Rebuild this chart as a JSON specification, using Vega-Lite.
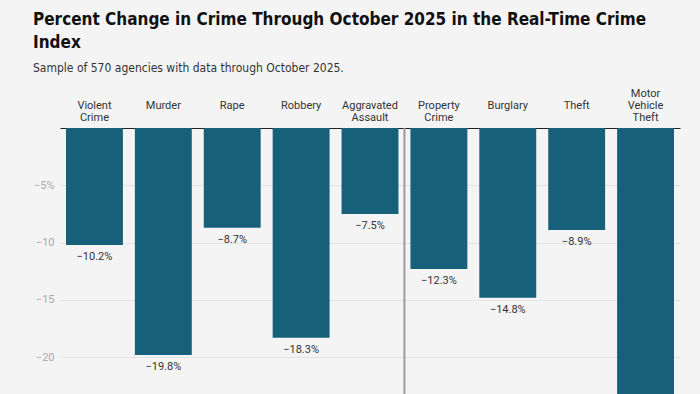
{
  "$schema": "https://vega.github.io/schema/vega-lite/v6.json",
  "width": 620,
  "height": 266,
  "autosize": {"type": "none"},
  "padding": {"left": 60, "top": 128, "right": 20, "bottom": 0},
  "background": "#f4f4f4",
  "title": {
    "text": ["Percent Change in Crime Through October 2025 in the Real-Time Crime", "Index"],
    "subtitle": "Sample of 570 agencies with data through October 2025.",
    "anchor": "start",
    "frame": "group",
    "dx": -27,
    "offset": 12,
    "font": "DejaVu Sans Condensed, Roboto",
    "fontSize": 17,
    "fontWeight": "bold",
    "color": "#111",
    "lineHeight": 23.5,
    "subtitleFont": "DejaVu Sans Condensed, Roboto",
    "subtitleFontSize": 12,
    "subtitleColor": "#333",
    "subtitlePadding": 11
  },
  "config": {"view": {"stroke": null}, "font": "Roboto"},
  "data": {
    "values": [
      {"crime": "Violent Crime", "change": -0.102},
      {"crime": "Murder", "change": -0.198},
      {"crime": "Rape", "change": -0.087},
      {"crime": "Robbery", "change": -0.183},
      {"crime": "Aggravated Assault", "change": -0.075},
      {"crime": "Property Crime", "change": -0.123},
      {"crime": "Burglary", "change": -0.148},
      {"crime": "Theft", "change": -0.089},
      {"crime": "Motor Vehicle Theft", "change": -0.255}
    ]
  },
  "layer": [
    {
      "mark": {"type": "bar", "color": "#17607a", "clip": true},
      "encoding": {
        "x": {
          "field": "crime",
          "type": "nominal",
          "sort": null,
          "scale": {
            "domain": ["Violent Crime", "Murder", "Rape", "Robbery", "Aggravated Assault", "Property Crime", "Burglary", "Theft", "Motor Vehicle Theft"],
            "paddingInner": 0.174,
            "paddingOuter": 0.087
          },
          "axis": {
            "orient": "top",
            "title": null,
            "labelAngle": 0,
            "ticks": false,
            "domainColor": "#222",
            "labelColor": "#333",
            "labelFontSize": 11,
            "labelPadding": 30,
            "labelLineHeight": 12,
            "labelExpr": "length(split(datum.label, ' ')) == 1 ? ['', '', datum.label] : length(split(datum.label, ' ')) == 2 ? ['', split(datum.label, ' ')[0], split(datum.label, ' ')[1]] : split(datum.label, ' ')"
          }
        },
        "y": {
          "field": "change",
          "type": "quantitative",
          "scale": {"domain": [-0.232, 0], "nice": false, "zero": false},
          "axis": {
            "title": null,
            "values": [-0.05, -0.1, -0.15, -0.2],
            "domain": false,
            "ticks": false,
            "gridColor": "#e4e4e4",
            "labelColor": "#aaaaaa",
            "labelFontSize": 11,
            "labelPadding": 6,
            "labelExpr": "datum.value > -0.06 ? format(datum.value, '.0%') : format(datum.value * 100, '.0f')"
          }
        }
      }
    },
    {
      "transform": [{"filter": "datum.change > -0.22"}],
      "mark": {"type": "text", "baseline": "top", "dy": 6, "fontSize": 11, "color": "#333"},
      "encoding": {
        "x": {"field": "crime", "type": "nominal", "sort": null},
        "y": {"field": "change", "type": "quantitative"},
        "text": {"field": "change", "type": "quantitative", "format": ".1%"}
      }
    },
    {
      "data": {"values": [{"divider": "Property Crime"}]},
      "mark": {"type": "rule", "color": "#9a9a9a", "strokeWidth": 2, "xOffset": -6},
      "encoding": {
        "x": {"field": "divider", "type": "nominal", "bandPosition": 0}
      }
    }
  ]
}
